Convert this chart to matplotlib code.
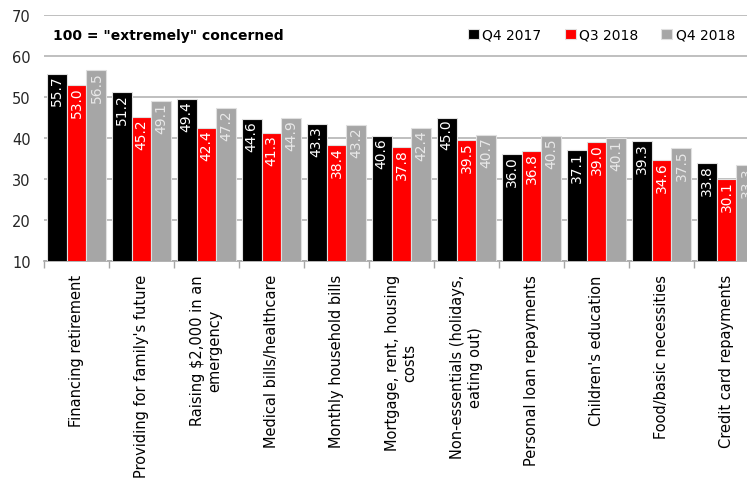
import matplotlib.pyplot as plt
import numpy as np

categories = [
    "Financing retirement",
    "Providing for family's future",
    "Raising $2,000 in an\nemergency",
    "Medical bills/healthcare",
    "Monthly household bills",
    "Mortgage, rent, housing\ncosts",
    "Non-essentials (holidays,\neating out)",
    "Personal loan repayments",
    "Children's education",
    "Food/basic necessities",
    "Credit card repayments",
]
q4_2017 = [55.7, 51.2, 49.4, 44.6, 43.3, 40.6, 45.0, 36.0, 37.1, 39.3, 33.8]
q3_2018 = [53.0, 45.2, 42.4, 41.3, 38.4, 37.8, 39.5, 36.8, 39.0, 34.6, 30.1]
q4_2018 = [56.5, 49.1, 47.2, 44.9, 43.2, 42.4, 40.7, 40.5, 40.1, 37.5, 33.3]

series = [("Q4 2017", q4_2017, "#000000", "white"),
          ("Q3 2018", q3_2018, "#FF0000", "white"),
          ("Q4 2018", q4_2018, "#A6A6A6", "#E8E8E8")]

fig = plt.figure(figsize=(7.47, 4.81), dpi=100)
ax = fig.add_axes([44 / 747, 1 - 262 / 481, 1 - 44 / 747, 246 / 481])

x = np.arange(len(categories))
w = 0.307
for k, (name, vals, col, tcol) in enumerate(series):
    pos = x + (k - 1) * w
    ax.bar(pos, vals, width=w, color=col, edgecolor="#E0E0E0",
           linewidth=0.8, label=name, zorder=3)
    for xi, v in zip(pos, vals):
        ax.text(xi, v - 0.3, f"{v:.1f}", rotation=90, ha="center", va="top",
                color=tcol, fontsize=10, zorder=4, clip_on=True)

ax.set_yticks(range(10, 71, 10))
ax.tick_params(axis="y", length=0, labelsize=10.5, labelcolor="#262626", pad=9.5)
ax.yaxis.grid(True, color="#B4B4B4", linewidth=1.2, zorder=0)
ax.set_axisbelow(True)

ax.set_xticks(x)
ax.set_xticklabels(categories, rotation=90, ha="center", va="top",
                   fontsize=10.5, multialignment="center")
ax.tick_params(axis="x", which="major", length=0, pad=9.5)
ax.set_xticks(np.arange(-0.5, 10.0, 1.0), minor=True)
ax.tick_params(axis="x", which="minor", length=5, color="#A6A6A6", width=1)

# last group runs off the right edge
ax.set_ylim(10, 70)
ax.set_xlim(-0.5, -0.5 + 703 / 65)

for s in ["left", "right", "top"]:
    ax.spines[s].set_visible(False)
ax.spines["bottom"].set_color("#A6A6A6")
ax.spines["bottom"].set_linewidth(1.2)

fig.text(53 / 747, 1 - 36 / 481, '100 = "extremely" concerned',
         fontsize=10, fontweight="bold", va="center", ha="left")

ax.legend(loc="center right", bbox_to_anchor=(0.991, 0.9187), ncol=3, frameon=False,
          fontsize=10, handlelength=0.8, handleheight=0.8, handletextpad=0.25,
          columnspacing=1.65, borderaxespad=0)

fig.savefig("out.png", dpi=100)
